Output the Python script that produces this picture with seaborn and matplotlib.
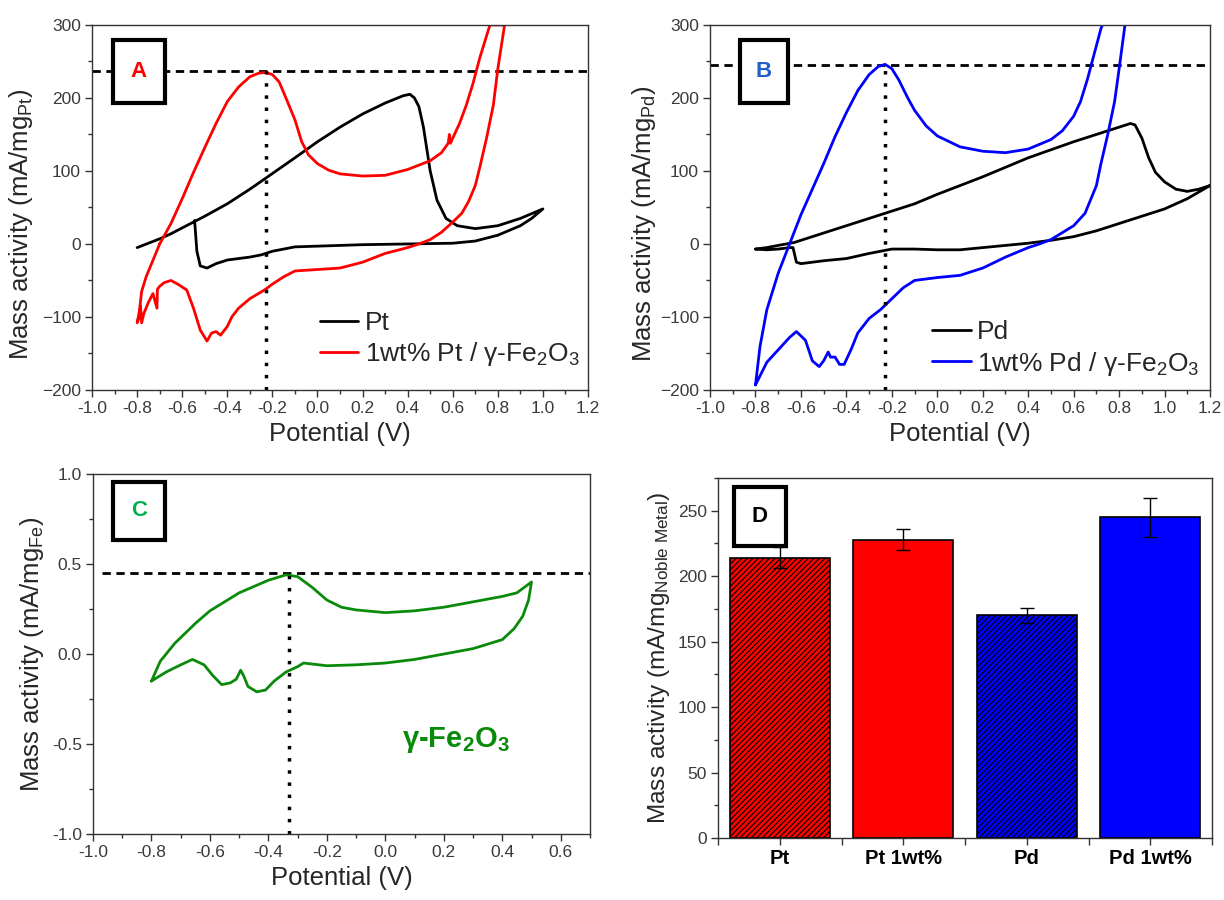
import matplotlib
matplotlib.use("Agg")
import matplotlib.pyplot as plt
from matplotlib.patches import Rectangle
from matplotlib.ticker import MultipleLocator, FixedLocator, FormatStrFormatter
import numpy as np
import pandas as pd
import seaborn as sns

sns.set_theme(style="white")
plt.rcParams['font.family'] = ['Liberation Sans', 'DejaVu Sans']
plt.rcParams['mathtext.fontset'] = 'custom'
plt.rcParams['mathtext.rm'] = 'Liberation Sans'
plt.rcParams['mathtext.it'] = 'Liberation Sans:italic'
plt.rcParams['mathtext.bf'] = 'Liberation Sans:bold'
plt.rcParams['hatch.linewidth'] = 0.8

# ---------------- Panel A data ----------------
pt_x = [-0.80, -0.75, -0.70, -0.65, -0.60, -0.55, -0.50, -0.40, -0.30, -0.23, -0.10, 0.00, 0.10, 0.20,
        0.30, 0.38, 0.41, 0.43, 0.45, 0.47, 0.50, 0.53, 0.57, 0.62, 0.70, 0.80, 0.90, 1.00,
        0.95, 0.90, 0.80, 0.70, 0.60, 0.40, 0.20, 0.00, -0.10, -0.20, -0.25, -0.30, -0.40,
        -0.45, -0.49, -0.52, -0.535, -0.545]
pt_y = [-5, 1, 7, 14, 22, 30, 38, 55, 75, 90, 118, 140, 160, 178,
        193, 203, 205, 200, 188, 160, 100, 60, 35, 25, 21, 25, 35, 48,
        35, 25, 12, 4, 1, 0, -1, -3, -4, -10, -15, -18, -22,
        -27, -33, -30, -10, 32]

ptfe_x = [-0.70, -0.65, -0.60, -0.55, -0.50, -0.45, -0.40, -0.35, -0.30, -0.26, -0.23, -0.20, -0.17,
          -0.14, -0.10, -0.07, -0.04, 0.00, 0.05, 0.10, 0.20, 0.30, 0.40, 0.50, 0.55, 0.58, 0.585,
          0.59, 0.60, 0.63, 0.66, 0.69, 0.72, 0.75, 0.765,
          0.83, 0.80, 0.78, 0.75, 0.72, 0.70, 0.67, 0.64, 0.60, 0.55, 0.50, 0.45, 0.40, 0.30,
          0.20, 0.10, 0.00, -0.10, -0.15, -0.20, -0.23, -0.30, -0.35, -0.38, -0.40, -0.43,
          -0.45, -0.47, -0.49, -0.52, -0.55, -0.58, -0.62, -0.65, -0.68, -0.70, -0.71, -0.712,
          -0.73, -0.75, -0.77, -0.78, -0.785, -0.79, -0.80, -0.79, -0.78, -0.76, -0.74, -0.72, -0.70]
ptfe_y = [0, 28, 62, 98, 132, 165, 195, 215, 229, 234, 235, 232, 222,
          200, 170, 140, 122, 110, 101, 96, 93, 94, 102, 114, 125, 138, 150,
          138, 145, 165, 190, 220, 255, 285, 300,
          300, 240, 190, 145, 105, 80, 58, 42, 30, 16, 6, 0, -5, -13,
          -25, -33, -35, -37, -45, -55, -62, -75, -88, -100, -113, -125,
          -120, -122, -133, -118, -88, -63, -55, -50, -53, -58, -62, -88,
          -68, -80, -95, -108, -85, -100, -108, -92, -65, -45, -30, -15, 0]

# ---------------- Panel B data ----------------
pd_x = [-0.80, -0.75, -0.70, -0.63, -0.60, -0.50, -0.40, -0.30, -0.23, -0.10, 0.00, 0.20, 0.40,
        0.60, 0.80, 0.85, 0.87, 0.90, 0.93, 0.96, 1.00, 1.05, 1.10, 1.15, 1.20,
        1.10, 1.00, 0.90, 0.80, 0.70, 0.60, 0.50, 0.40, 0.30, 0.20, 0.10, 0.00, -0.10,
        -0.20, -0.25, -0.30, -0.40, -0.50, -0.60, -0.62, -0.635, -0.65, -0.70, -0.75, -0.80]
pd_y = [-7, -5, -2, 2, 5, 15, 25, 35, 42, 55, 68, 92, 118,
        140, 160, 165, 163, 145, 118, 98, 85, 75, 72, 75, 80,
        62, 48, 38, 28, 18, 10, 5, 1, -2, -5, -8, -8, -7,
        -7, -10, -13, -20, -23, -27, -25, -5, -5, -7, -8, -7]

pdfe_x = [-0.80, -0.78, -0.75, -0.70, -0.65, -0.60, -0.55, -0.50, -0.45, -0.40, -0.35, -0.30,
          -0.26, -0.23, -0.20, -0.17, -0.13, -0.10, -0.05, 0.00, 0.10, 0.20, 0.30, 0.40, 0.50,
          0.55, 0.60, 0.63, 0.66, 0.69, 0.72, 0.74,
          0.83, 0.80, 0.78, 0.75, 0.72, 0.70, 0.65, 0.60, 0.50, 0.45, 0.40, 0.30, 0.20, 0.10,
          0.00, -0.10, -0.15, -0.20, -0.25, -0.30, -0.35, -0.38, -0.41, -0.43, -0.45, -0.47,
          -0.48, -0.50, -0.52, -0.55, -0.58, -0.62, -0.65, -0.70, -0.75, -0.80]
pdfe_y = [-193, -140, -90, -40, 0, 40, 75, 110, 147, 180, 210, 232,
          243, 246, 240, 225, 200, 183, 162, 148, 133, 127, 125, 130, 143,
          155, 175, 195, 225, 260, 295, 310,
          310, 240, 195, 150, 110, 80, 42, 25, 6, 0, -5, -18, -33, -43,
          -46, -50, -60, -75, -90, -102, -122, -145, -165, -165, -155, -155,
          -148, -160, -168, -160, -132, -120, -128, -145, -162, -193]

# ---------------- Panel C data ----------------
fe_x = [-0.80, -0.77, -0.72, -0.65, -0.60, -0.50, -0.40, -0.34, -0.30, -0.25, -0.20, -0.15,
        -0.10, 0.00, 0.10, 0.20, 0.30, 0.40, 0.45, 0.50,
        0.49, 0.47, 0.44, 0.40, 0.30, 0.20, 0.10, 0.00, -0.10, -0.20, -0.28, -0.30, -0.34,
        -0.38, -0.41, -0.44, -0.47, -0.485, -0.495, -0.51, -0.53, -0.56, -0.59, -0.62,
        -0.66, -0.70, -0.75, -0.80]
fe_y = [-0.15, -0.04, 0.06, 0.17, 0.24, 0.34, 0.41, 0.44, 0.43, 0.37, 0.30, 0.26,
        0.245, 0.23, 0.24, 0.26, 0.29, 0.32, 0.34, 0.40,
        0.30, 0.21, 0.14, 0.08, 0.03, 0.00, -0.03, -0.05, -0.06, -0.065, -0.05, -0.07, -0.10,
        -0.15, -0.20, -0.21, -0.18, -0.12, -0.09, -0.14, -0.16, -0.17, -0.12, -0.06,
        -0.03, -0.06, -0.10, -0.15]

# ---------------- Panel D data ----------------
bar_labels = ["Pt", "Pt 1wt%", "Pd", "Pd 1wt%"]
bar_values = [214, 228, 170, 245]
bar_errors = [8, 8, 6, 15]
bar_colors = ["#ff0000", "#ff0000", "#0000ff", "#0000ff"]
bar_hatched = [True, False, True, False]

TICK_COLOR = "#3a3a3a"
LABEL_FS = 18.5
TICK_FS = 12.5
LEG_FS = 19


def style_axes(ax):
    for s in ax.spines.values():
        s.set_color("#333333")
        s.set_linewidth(1.0)
    ax.tick_params(which="both", direction="out", color="#333333", labelcolor=TICK_COLOR,
                   labelsize=TICK_FS, bottom=True, left=True, top=False, right=False, pad=3)
    ax.tick_params(which="major", length=5, width=1)
    ax.tick_params(which="minor", length=3, width=1)


def label_box(ax, x0, y0, w, h, letter, color):
    ax.add_patch(Rectangle((x0, y0), w, h, transform=ax.transAxes, facecolor="white",
                           edgecolor="black", linewidth=3, zorder=5, clip_on=False))
    ax.text(x0 + w / 2, y0 + h / 2, letter, transform=ax.transAxes, ha="center", va="center",
            color=color, fontsize=16, fontweight="bold", zorder=6)


def curve(ax, x, y, color, label=None):
    df = pd.DataFrame({"x": x, "y": y})
    sns.lineplot(data=df, x="x", y="y", sort=False, estimator=None, color=color,
                 linewidth=2.0, ax=ax, label=label, legend=False)


fig = plt.figure(figsize=(12.24, 9), dpi=100)

# ---------- A ----------
axA = fig.add_axes([0.0752, 0.5667, 0.4052, 0.4056])
curve(axA, pt_x, pt_y, "black", "Pt")
curve(axA, ptfe_x, ptfe_y, "#ff0000", "1wt% Pt / γ-Fe$_2$O$_3$")
axA.set_xlim(-1.0, 1.2)
axA.set_ylim(-200, 300)
axA.axhline(237, color="black", linestyle=(0, (3, 2)), linewidth=2, zorder=1)
axA.plot([-0.23, -0.23], [-200, 240], color="black", linestyle=(0, (1, 2.5)), linewidth=2.5)
axA.xaxis.set_major_locator(MultipleLocator(0.2))
axA.xaxis.set_minor_locator(MultipleLocator(0.1))
axA.yaxis.set_major_locator(MultipleLocator(100))
axA.yaxis.set_minor_locator(MultipleLocator(50))
axA.xaxis.set_major_formatter(FormatStrFormatter("%.1f"))
axA.set_xlabel("Potential (V)", fontsize=LABEL_FS, labelpad=4)
axA.set_ylabel("Mass activity (mA/mg$_{\\mathrm{Pt}}$)", fontsize=LABEL_FS)
axA.yaxis.set_label_coords(-0.115, 0.455)
style_axes(axA)
axA.legend(loc="lower right", frameon=False, fontsize=LEG_FS, handlelength=1.45,
           handletextpad=0.25, labelspacing=0.2, borderaxespad=0.0,
           bbox_to_anchor=(1.005, 0.03))
label_box(axA, 0.042, 0.786, 0.105, 0.173, "A", "#ff0000")

# ---------- B ----------
axB = fig.add_axes([0.5801, 0.5667, 0.4085, 0.4056])
curve(axB, pd_x, pd_y, "black", "Pd")
curve(axB, pdfe_x, pdfe_y, "#0000ff", "1wt% Pd / γ-Fe$_2$O$_3$")
axB.set_xlim(-1.0, 1.2)
axB.set_ylim(-200, 300)
axB.axhline(245, color="black", linestyle=(0, (3, 2)), linewidth=2, zorder=1)
axB.plot([-0.23, -0.23], [-200, 245], color="black", linestyle=(0, (1, 2.5)), linewidth=2.5)
axB.xaxis.set_major_locator(MultipleLocator(0.2))
axB.xaxis.set_minor_locator(MultipleLocator(0.1))
axB.yaxis.set_major_locator(MultipleLocator(100))
axB.yaxis.set_minor_locator(MultipleLocator(50))
axB.xaxis.set_major_formatter(FormatStrFormatter("%.1f"))
axB.set_xlabel("Potential (V)", fontsize=LABEL_FS, labelpad=4)
axB.set_ylabel("Mass activity (mA/mg$_{\\mathrm{Pd}}$)", fontsize=LABEL_FS)
axB.yaxis.set_label_coords(-0.105, 0.455)
style_axes(axB)
axB.legend(loc="lower right", frameon=False, fontsize=LEG_FS, handlelength=1.45,
           handletextpad=0.25, labelspacing=0.2, borderaxespad=0.0,
           bbox_to_anchor=(1.0, 0.005))
label_box(axB, 0.06, 0.786, 0.096, 0.173, "B", "#1f5fc8")

# ---------- C ----------
axC = fig.add_axes([0.076, 0.0733, 0.406, 0.40])
curve(axC, fe_x, fe_y, "#0a8a0a")
axC.set_xlim(-1.0, 0.7)
axC.set_ylim(-1.0, 1.0)
axC.plot([-0.97, 0.7], [0.45, 0.45], color="black", linestyle=(0, (3, 2)), linewidth=2, zorder=1)
axC.plot([-0.33, -0.33], [-1.0, 0.45], color="black", linestyle=(0, (1, 2.5)), linewidth=2.5)
axC.xaxis.set_major_locator(MultipleLocator(0.2))
axC.xaxis.set_minor_locator(MultipleLocator(0.1))
axC.yaxis.set_major_locator(MultipleLocator(0.5))
axC.yaxis.set_minor_locator(MultipleLocator(0.25))
axC.xaxis.set_major_formatter(FormatStrFormatter("%.1f"))
axC.yaxis.set_major_formatter(FormatStrFormatter("%.1f"))
axC.set_xlabel("Potential (V)", fontsize=LABEL_FS, labelpad=4)
axC.set_ylabel("Mass activity (mA/mg$_{\\mathrm{Fe}}$)", fontsize=LABEL_FS, labelpad=4)
style_axes(axC)
axC.text(0.24, -0.48, "γ-Fe$_\\mathbf{2}$O$_\\mathbf{3}$", color="#0a8a0a",
         fontsize=21, fontweight="bold", ha="center", va="center")
label_box(axC, 0.04, 0.817, 0.105, 0.161, "C", "#00b050")

# ---------- D ----------
axD = fig.add_axes([0.5866, 0.0689, 0.4036, 0.40])
dfD = pd.DataFrame({"cat": bar_labels, "val": bar_values})
sns.barplot(data=dfD, x="cat", y="val", hue="cat", palette=bar_colors, legend=False,
            width=0.81, edgecolor="black", linewidth=1.2, ax=axD, errorbar=None, saturation=1)
for patch, h in zip(axD.patches, bar_hatched):
    if h:
        patch.set_hatch("//////")
axD.errorbar(range(len(bar_values)), bar_values, yerr=bar_errors, fmt="none",
             ecolor="black", elinewidth=1, capsize=5, capthick=1)
axD.set_xlim(-0.5, 3.5)
axD.set_ylim(0, 275)
axD.yaxis.set_major_locator(MultipleLocator(50))
axD.yaxis.set_minor_locator(MultipleLocator(25))
axD.xaxis.set_minor_locator(FixedLocator([-0.5, 0.5, 1.5, 2.5, 3.5]))
axD.set_xlabel("")
axD.set_ylabel("Mass activity (mA/mg$_{\\mathrm{Noble\\ Metal}}$)", fontsize=17.6, labelpad=4)
style_axes(axD)
axD.tick_params(axis="x", which="minor", length=5)
for t in axD.get_xticklabels():
    t.set_fontweight("bold")
    t.set_color("black")
    t.set_fontsize(14.5)
label_box(axD, 0.032, 0.811, 0.106, 0.164, "D", "black")

fig.savefig("out.png", dpi=100)
